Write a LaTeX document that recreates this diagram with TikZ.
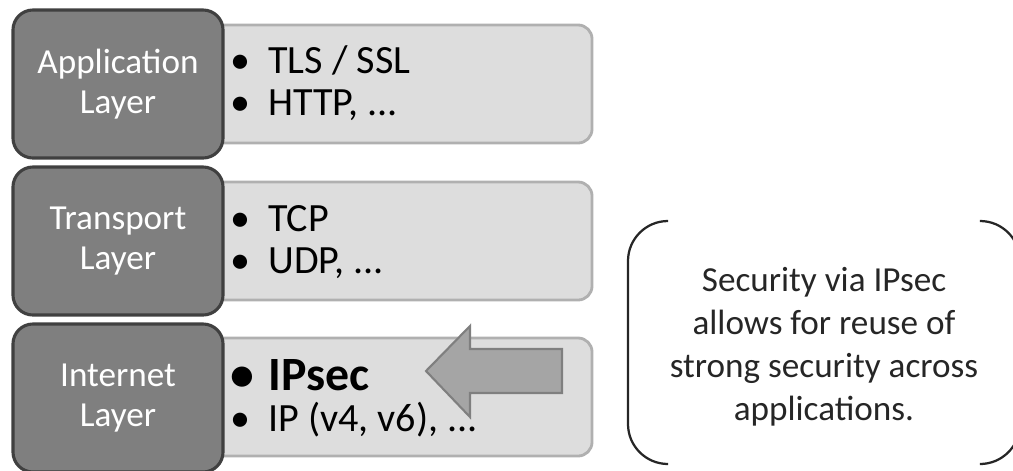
\documentclass[tikz,border=0pt]{standalone}
\usepackage{fontspec}
\setmainfont{Carlito}
\usetikzlibrary{positioning}
\definecolor{layerfill}{HTML}{7F7F7F}
\definecolor{layerline}{HTML}{404040}
\definecolor{protofill}{HTML}{DDDDDD}
\definecolor{protoline}{HTML}{B0B0B0}
\definecolor{arrowfill}{HTML}{A5A5A5}
\definecolor{arrowline}{HTML}{7F7F7F}
\newcommand{\dotmark}{\makebox[0.95cm][l]{\textbullet}}

\begin{document}
\begin{tikzpicture}[x=0.025cm, y=-0.025cm,
    layer/.style={draw=layerline, fill=layerfill, line width=2.2pt, rounded corners=0.5cm,
        minimum width=5.25cm, minimum height=3.7cm, text=white, align=center,
        font=\fontsize{25}{28.5}\selectfont},
    proto/.style={draw=protoline, fill=protofill, line width=2pt, rounded corners=0.35cm,
        minimum width=9.8cm, minimum height=2.95cm},
    item/.style={anchor=base west, inner sep=0pt, font=\fontsize{28.5}{34}\selectfont},
    note/.style={align=center, font=\fontsize{25}{30.5}\selectfont, text=black!85},
    bracket/.style={draw=black!85, line width=1.6pt, rounded corners=1cm}]
    \clip (0,0) rectangle (1013,470);

    % Protocol boxes
    \node[proto] (appbox) at (396,84) {};
    \node[proto] (transbox) at (396,241) {};
    \node[proto] (netbox) at (396,397) {};

    % Layers
    \node[layer] (applayer) at (118,84) {Application\\Layer};
    \node[layer] (translayer) at (118,241) {Transport\\Layer};
    \node[layer] (netlayer) at (118,398) {Internet\\Layer};

    % Protocols
    \node[item] (tls) at (230,73) {\dotmark TLS / SSL};
    \node[item] (http) at (230,115) {\dotmark HTTP, ...};
    \node[item] (tcp) at (230,231) {\dotmark TCP};
    \node[item] (udp) at (230,273) {\dotmark UDP, ...};
    \node[item, font=\fontsize{34}{40}\bfseries] (ipsec) at (230,390) {\dotmark IPsec};
    \node[item] (ip) at (230,431) {\dotmark IP (v4, v6), ...};

    % Arrow into the internet layer
    \draw[draw=arrowline, fill=arrowfill, line width=1.5pt]
        (562,349) -- (470,349) -- (470,326) -- (426,371) -- (470,417) -- (470,393) -- (562,393) -- cycle;

    % Note
    \draw[bracket] (668,221) -- (628,221) -- (628,464) -- (668,464);
    \draw[bracket] (980,221) -- (1020,221) -- (1020,464) -- (980,464);
    \node[note] (reuse) at (824,347) {Security via IPsec\\allows for reuse of\\strong security across\\applications.};
\end{tikzpicture}
\end{document}
